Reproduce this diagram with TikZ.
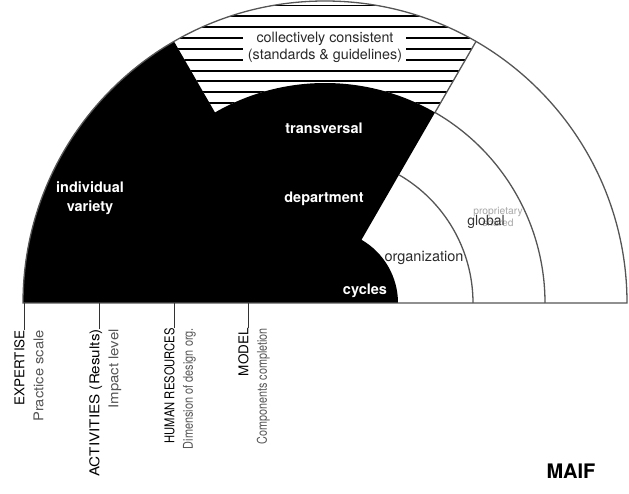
\documentclass[tikz,border=0pt]{standalone}
\usepackage{fontspec}
\setmainfont{TeX Gyre Heros}
\usepackage{graphicx}
\definecolor{edge}{HTML}{555555}
\definecolor{darktext}{HTML}{2A2A2A}
\definecolor{subgray}{HTML}{555555}
\definecolor{lightgray}{HTML}{A8A8A8}
\definecolor{tickgray}{HTML}{333333}
\begin{document}
\begin{tikzpicture}[x=1pt,y=1pt,
  wlab/.style={text=white, font=\fontsize{14.5}{19}\selectfont\bfseries, align=center, inner sep=0},
  glab/.style={text=darktext, font=\fontsize{14.5}{17}\selectfont, inner sep=0},
  ttl/.style={rotate=90, anchor=base east, inner sep=0, text=black, font=\fontsize{13.5}{16}\selectfont},
  sublab/.style={rotate=90, anchor=base east, inner sep=0, text=subgray, font=\fontsize{13.5}{16}\selectfont},
  tickline/.style={draw=tickgray, line width=1.1pt},
  outline/.style={draw=edge, line width=1.3pt},
  hatchline/.style={draw=black, line width=1.9pt}]
\useasboundingbox (0,0) rectangle (629,493);
\coordinate (O) at (325,190);
% black region
\fill[black, shift={(O)}] (180:302) arc[start angle=180,end angle=120,radius=302]
  -- (120:220) arc[start angle=120,end angle=60,radius=220]
  -- (60:73) arc[start angle=60,end angle=0,radius=73] -- (0,0) -- cycle;
% hatched sector
\begin{scope}
\clip[shift={(O)}] (120:220) -- (120:302) arc[start angle=120,end angle=60,radius=302]
  -- (60:220) arc[start angle=60,end angle=120,radius=220] -- cycle;
\foreach \k in {0,...,9} \draw[hatchline] (150,{487.5-10.85*\k}) -- (500,{487.5-10.85*\k});
\end{scope}
% outlines
\draw[outline, shift={(O)}] (60:220) -- (60:302);
\draw[outline, shift={(O)}] (0:148) arc[start angle=0,end angle=60,radius=148];
\draw[outline, shift={(O)}] (0:220) arc[start angle=0,end angle=60,radius=220];
\draw[outline, shift={(O)}] (0:302) arc[start angle=0,end angle=180,radius=302] -- cycle;
% collectively consistent
\node[fill=white, minimum width=163pt, minimum height=27pt, inner sep=0] (ccbox) at (324.5,445.5) {};
\node[text=darktext, font=\fontsize{14.3}{16.8}\selectfont, align=center, inner sep=0] (cc) at (325,446) {collectively consistent\\(standards \& guidelines)};
% white labels
\node[wlab] (trans) at (324,365) {transversal};
\node[wlab] (dept) at (324,294) {department};
\node[wlab] (cyc) at (365,202) {cycles};
\node[wlab] (indiv) at (90,295) {individual\\variety};
% gray labels
\node[glab] (org) at (424,235) {organization};
\node[text=lightgray, font=\fontsize{10.3}{12.5}\selectfont, align=center, inner sep=0] (prop) at (498,276) {proprietary\\shared};
\node[glab, font=\fontsize{14}{17}\selectfont, text=tickgray] (glob) at (486,271) {global};
% bottom labels
\coordinate (b1) at (24.3,190);
\coordinate (b2) at (99.3,190);
\coordinate (b3) at (174.3,190);
\coordinate (b4) at (248.3,190);
\node[ttl] (t1) at (24.3,163) {EXPERTISE};
\node[sublab] (s1) at (43.3,163) {\scalebox{1.09}[1]{Practice scale}};
\node[ttl] (t2) at (99.3,164) {\scalebox{1.13}[1]{ACTIVITIES (Results)}};
\node[sublab] (s2) at (118.3,164) {\scalebox{1.11}[1]{Impact level}};
\node[ttl] (t3) at (174.3,165) {\scalebox{0.83}[1]{HUMAN RESOURCES}};
\node[sublab] (s3) at (192.8,165) {\scalebox{0.81}[1]{Dimension of design org.}};
\node[ttl] (t4) at (248.3,165) {MODEL};
\node[sublab] (s4) at (266.8,165) {\scalebox{0.8}[1]{Components completion}};
\draw[tickline] (b1) -- (t1.base east);
\draw[tickline] (b2) -- (t2.base east);
\draw[tickline] (b3) -- (t3.base east);
\draw[tickline] (b4) -- (t4.base east);
% MAIF
\node[font=\fontsize{20}{24}\selectfont\bfseries, inner sep=0] (maif) at (571,22) {MAIF};
\end{tikzpicture}
\end{document}
